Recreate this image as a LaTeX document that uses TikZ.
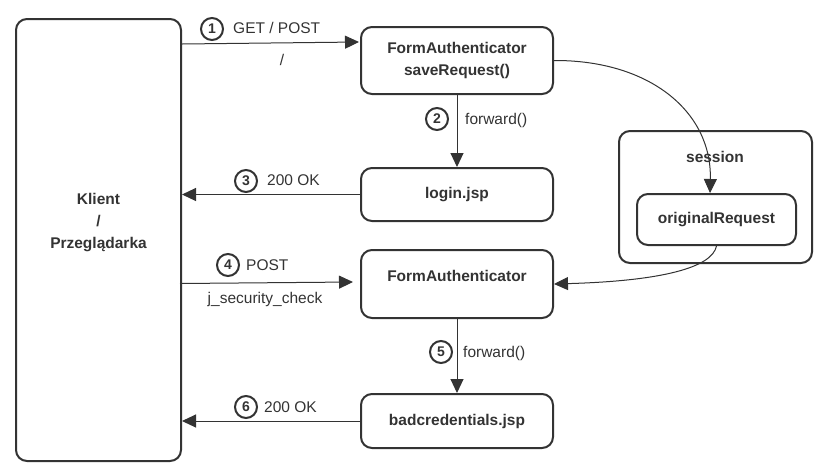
\documentclass[tikz,border=0pt]{standalone}
\usepackage{fontspec}
\setmainfont{Liberation Sans}
\usetikzlibrary{arrows.meta}
\definecolor{ink}{HTML}{333333}
\begin{document}
\begin{tikzpicture}[x=1pt,y=-1pt,
  every node/.style={font=\fontsize{15.5}{22}\selectfont, text=ink},
  box/.style={draw=ink, line width=2pt, rounded corners=11pt, inner sep=0pt},
  title/.style={font=\fontsize{15.5}{22}\selectfont\bfseries, align=center, inner sep=0pt},
  num/.style={circle, draw=ink, line width=2pt, minimum size=22pt, inner sep=0pt,
              font=\fontsize{14}{14}\selectfont\bfseries},
  lbl/.style={inner sep=0pt, anchor=west, text height=11pt, text depth=0pt},
  flow/.style={draw=ink, line width=1pt, -{Triangle[length=14pt,width=13pt]}},
]
\useasboundingbox (0,0) rectangle (830,475);

% participants
\node[box, minimum width=165pt, minimum height=442pt] (client) at (98.5,240) {};
\node[title] (clienttxt) at (98.5,223) {Klient\\/\\Przeglądarka};

\node[box, minimum width=192pt, minimum height=67pt, title] (fa1) at (457,60.5)
  {FormAuthenticator\\saveRequest()};
\node[box, minimum width=192pt, minimum height=53pt, title] (login) at (457,194.5) {login.jsp};
\node[box, minimum width=192pt, minimum height=68pt] (fa2) at (457,284) {};
\node[title] (fa2txt) at (457,276) {FormAuthenticator};
\node[box, minimum width=192pt, minimum height=54pt, title] (bad) at (457,421) {badcredentials.jsp};

% session store
\node[box, minimum width=193pt, minimum height=132pt] (session) at (715.5,197) {};
\node[title] (sessiontxt) at (715,157) {session};
\node[box, minimum width=159pt, minimum height=51pt, title] (orig) at (716.5,219.5) {originalRequest};

% connector end points on the client side
\coordinate (c1) at (182,44);
\coordinate (f1in) at (359,42);
\coordinate (c3) at (182,194.5);
\coordinate (c4) at (180,283.5);
\coordinate (f2in) at (353,282);
\coordinate (c6) at (182,421);
\coordinate (origin) at (710,193);

% request flow
\draw[flow] (c1) -- (f1in);
\draw[flow] (fa1.south) -- (login.north);
\draw[flow] (login.west) -- (c3);
\draw[flow] (c4) -- (f2in);
\draw[flow] (fa2.south) -- (bad.north);
\draw[flow] (bad.west) -- (c6);

% saving and restoring the original request
\draw[flow] (fa1.east) .. controls (650,60) and (712,112) .. (origin);
\draw[flow] (orig.south) .. controls (712,268) and (660,281) .. (fa2.east);

% step labels
\node[num] (n1) at (212,29) {1};
\node[lbl] (l1) at (233,28) {GET / POST};
\node[lbl, anchor=center] (l1b) at (282,60) {/};
\node[num] (n2) at (437,119) {2};
\node[lbl] (l2) at (465,119) {forward()};
\node[num] (n3) at (246,181) {3};
\node[lbl] (l3) at (267,180) {200 OK};
\node[num] (n4) at (228,265) {4};
\node[lbl] (l4) at (246,265) {POST};
\node[lbl, anchor=center] (l4b) at (265,298) {j\_security\_check};
\node[num] (n5) at (441,352) {5};
\node[lbl] (l5) at (463,352) {forward()};
\node[num] (n6) at (246,407) {6};
\node[lbl] (l6) at (264,407) {200 OK};
\end{tikzpicture}
\end{document}
